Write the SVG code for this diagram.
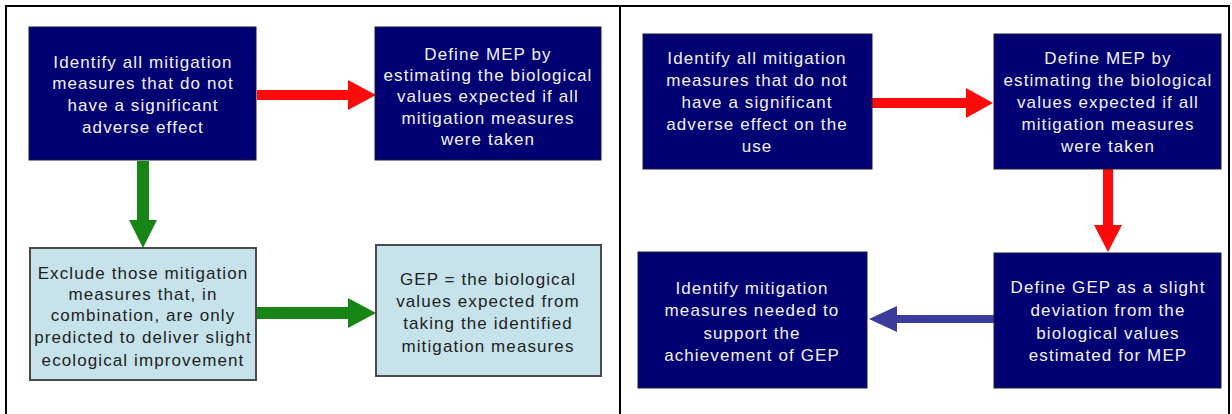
<svg xmlns="http://www.w3.org/2000/svg" width="1232" height="414" viewBox="0 0 1232 414">
<style>
.dark{fill:#000073;stroke:#1a1a3a;stroke-width:1}
.light{fill:#c6e3eb;stroke:#4a4a4a;stroke-width:2}
.tw{font-family:"Liberation Sans",Arial,sans-serif;font-size:17px;letter-spacing:1.1px;fill:#f2f2f2;text-anchor:middle}
.tk{font-family:"Liberation Sans",Arial,sans-serif;font-size:17px;letter-spacing:1.1px;fill:#222222;text-anchor:middle}
.frame{fill:none;stroke:#000;stroke-width:2}
.red{fill:#ff0a0a}
.green{fill:#168516}
.blue{fill:#3c3c9c}
</style>
<rect x="0" y="0" width="1232" height="414" fill="#ffffff"/>
<path class="frame" d="M5 6H1230M6 6V414M620 6V414M1229 6V414"/>

<g id="connectors">
<path class="red" d="M257 90H348V80L376 95L348 110V100H257Z"/>
<path class="green" d="M137 161H149V220H157L143 248L129 220H137Z"/>
<path class="green" d="M256 307H348V298L376 313L348 328V319H256Z"/>
<path class="red" d="M872 98H966V88L993 103L966 118V108H872Z"/>
<path class="red" d="M1103 169H1113V225H1122L1108 252L1094 225H1103Z"/>
<path class="blue" d="M994 315H897V306L869 319L897 332V323H994Z"/>
</g>

<g id="l-identify">
<rect class="dark" x="29" y="27" width="227" height="133"/>
<text class="tw" x="143" y="68">Identify all mitigation</text>
<text class="tw" x="143" y="89">measures that do not</text>
<text class="tw" x="143" y="111">have a significant</text>
<text class="tw" x="143" y="133">adverse effect</text>
</g>

<g id="l-define-mep">
<rect class="dark" x="375" y="27" width="226" height="133"/>
<text class="tw" x="488" y="60">Define MEP by</text>
<text class="tw" x="488" y="81">estimating the biological</text>
<text class="tw" x="488" y="102">values expected if all</text>
<text class="tw" x="488" y="124">mitigation measures</text>
<text class="tw" x="488" y="145">were taken</text>
</g>

<g id="l-exclude">
<rect class="light" x="30" y="248" width="226" height="132"/>
<text class="tk" x="143" y="279">Exclude those mitigation</text>
<text class="tk" x="143" y="300">measures that, in</text>
<text class="tk" x="143" y="321">combination, are only</text>
<text class="tk" x="143" y="343">predicted to deliver slight</text>
<text class="tk" x="143" y="366">ecological improvement</text>
</g>

<g id="l-gep">
<rect class="light" x="376" y="245" width="225" height="131"/>
<text class="tk" x="488" y="285">GEP = the biological</text>
<text class="tk" x="488" y="307">values expected from</text>
<text class="tk" x="488" y="329">taking the identified</text>
<text class="tk" x="488" y="352">mitigation measures</text>
</g>

<g id="r-identify">
<rect class="dark" x="643" y="34" width="229" height="135"/>
<text class="tw" x="757" y="64">Identify all mitigation</text>
<text class="tw" x="757" y="86">measures that do not</text>
<text class="tw" x="757" y="108">have a significant</text>
<text class="tw" x="757" y="130">adverse effect on the</text>
<text class="tw" x="757" y="152">use</text>
</g>

<g id="r-define-mep">
<rect class="dark" x="994" y="34" width="227" height="135"/>
<text class="tw" x="1108" y="64">Define MEP by</text>
<text class="tw" x="1108" y="86">estimating the biological</text>
<text class="tw" x="1108" y="108">values expected if all</text>
<text class="tw" x="1108" y="130">mitigation measures</text>
<text class="tw" x="1108" y="152">were taken</text>
</g>

<g id="r-define-gep">
<rect class="dark" x="994" y="253" width="227" height="135"/>
<text class="tw" x="1108" y="293">Define GEP as a slight</text>
<text class="tw" x="1108" y="316">deviation from the</text>
<text class="tw" x="1108" y="339">biological values</text>
<text class="tw" x="1108" y="361">estimated for MEP</text>
</g>

<g id="r-identify-needed">
<rect class="dark" x="638" y="252" width="229" height="136"/>
<text class="tw" x="752" y="294">Identify mitigation</text>
<text class="tw" x="752" y="316">measures needed to</text>
<text class="tw" x="752" y="339">support the</text>
<text class="tw" x="752" y="361">achievement of GEP</text>
</g>
</svg>
